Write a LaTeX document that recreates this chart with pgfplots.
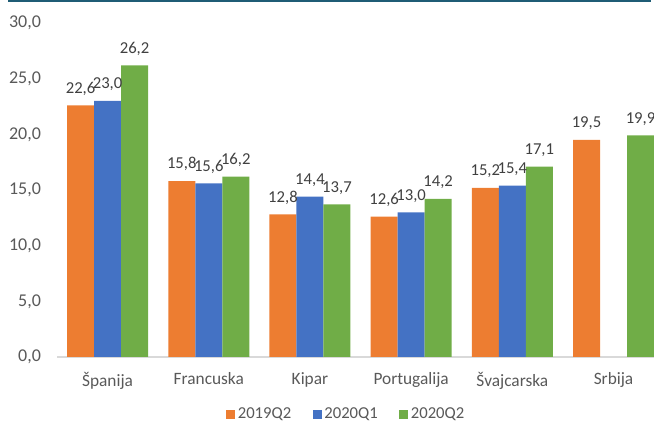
\documentclass[border=0pt]{standalone}
\usepackage{pgfplots}
\pgfplotsset{compat=1.18}
\usepackage{fontspec}
\setmainfont{Carlito}
\definecolor{cOr}{HTML}{ED7D31}
\definecolor{cBl}{HTML}{4472C4}
\definecolor{cGr}{HTML}{70AD47}
\definecolor{cTx}{HTML}{595959}
\definecolor{cLb}{HTML}{404040}
\definecolor{cAx}{HTML}{D9D9D9}
\definecolor{cTop}{HTML}{1F5C75}
\begin{document}
\begin{tikzpicture}
\useasboundingbox (0,0) rectangle (490.5pt,318.75pt);
\draw[cTop, line width=1.2pt] (6pt,317.8pt) -- (488pt,317.8pt);
\begin{axis}[
  at={(42.75pt,51pt)}, anchor=south west,
  scale only axis, width=447.75pt, height=250.5pt,
  xmin=-0.5, xmax=5.4, ymin=0, ymax=30,
  ytick={0,5,...,30},
  xtick={0,1,2,3,4,5},
  xticklabels={Španija,Francuska,Kipar,Portugalija,Švajcarska,Srbija},
  axis x line*=bottom, axis y line*=left,
  x axis line style={draw=cAx, line width=0.8pt, -},
  y axis line style={draw=none},
  major tick length=0pt,
  /pgf/number format/assume math mode=true,
  yticklabel style={/pgf/number format/fixed, /pgf/number format/fixed zerofill, /pgf/number format/precision=1, /pgf/number format/use comma, xshift=-8.5pt, font=\fontsize{13.5}{15}\selectfont},
  xticklabel style={yshift=-8pt, font=\fontsize{13}{15}\selectfont},
  ticklabel style={text=cTx},
  ybar, bar width=20.25pt,
  nodes near coords,
  every node near coord/.append style={font=\fontsize{12.5}{14}\selectfont, text=cLb, yshift=4pt,
     /pgf/number format/fixed, /pgf/number format/fixed zerofill, /pgf/number format/precision=1, /pgf/number format/use comma, /pgf/number format/assume math mode=true},
  legend columns=3,
  legend style={draw=none, at={(0.485,-0.172)}, anchor=center,
     font=\fontsize{12.5}{14}\selectfont, text=cTx,
     /tikz/every even column/.append style={column sep=14pt}},
  legend image code/.code={\fill[#1,draw=none] (0pt,-3.4pt) rectangle (6.8pt,3.4pt);},
]
\addplot[fill=cOr, draw=none, bar shift=-20.25pt] coordinates {(0,22.6) (1,15.8) (2,12.8) (3,12.6) (4,15.2) (5,19.5)};
\addplot[fill=cBl, draw=none, bar shift=0pt] coordinates {(0,23.0) (1,15.6) (2,14.4) (3,13.0) (4,15.4)};
\addplot[fill=cGr, draw=none, bar shift=20.25pt] coordinates {(0,26.2) (1,16.2) (2,13.7) (3,14.2) (4,17.1) (5,19.9)};
\legend{2019Q2,2020Q1,2020Q2}
\end{axis}
\end{tikzpicture}
\end{document}
